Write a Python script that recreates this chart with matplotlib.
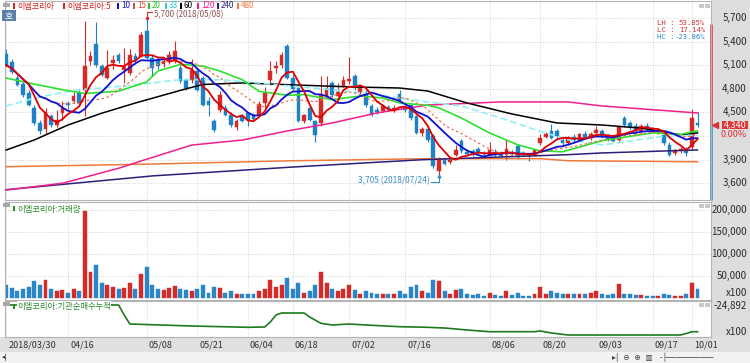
import numpy as np
import pandas as pd
import matplotlib
matplotlib.use('Agg')
import matplotlib.pyplot as plt
from matplotlib.patches import Rectangle
from matplotlib.transforms import offset_copy

plt.rcParams['font.family'] = ['Noto Sans CJK KR', 'DejaVu Sans']

# ---- data (daily, 2018/03/30 .. 2018/10/02) ----
tick_idx = [0, 11, 25, 34, 43, 51, 61, 71, 86, 95, 105, 115, 122]
tick_labels = ['2018/03/30', '04/16', '05/08', '05/21', '06/04', '06/18',
               '07/02', '07/16', '08/06', '08/20', '09/03', '09/17', '10/01']

opens = [5240, 5140, 4940, 4860, 4750, 4560, 4370, 4290, 4460, 4340,
         4490, 4620, 4640, 4750, 4780, 5150, 5370, 5090, 4940, 5130,
         5230, 5040, 5000, 5220, 5220, 5530, 5190, 5170, 5120, 5150,
         5150, 5070, 4910, 4910, 5030, 4940, 4650, 4390, 4530, 4560,
         4470, 4310, 4450, 4490, 4470, 4470, 4620, 4910, 5060, 5100,
         5340, 4940, 4810, 4390, 4560, 4390, 4360, 4710, 4870, 4710,
         4840, 4900, 4960, 4760, 4750, 4580, 4530, 4520, 4570, 4520,
         4730, 4570, 4590, 4450, 4240, 4290, 4200, 3760, 3900, 3870,
         3960, 4140, 4000, 4010, 4040, 3990, 3960, 4000, 3990, 3960,
         3990, 4070, 3990, 3960, 3960, 4110, 4190, 4270, 4260, 4150,
         4110, 4190, 4150, 4220, 4180, 4240, 4270, 4200, 4170, 4150,
         4430, 4370, 4330, 4260, 4330, 4300, 4250, 4210, 4090, 3980,
         4020, 4030, 4060, 4370]
highs = [5300, 5180, 4980, 4900, 4790, 4600, 4400, 4560, 4480, 4530,
         4640, 4640, 4760, 4780, 5660, 5280, 5650, 5120, 5290, 5230,
         5250, 5320, 5300, 5260, 5520, 5700, 5230, 5200, 5200, 5280,
         5410, 5100, 4940, 5180, 5060, 4960, 4700, 4420, 4770, 4590,
         4500, 4420, 4480, 4510, 4490, 4640, 4820, 5150, 5150, 5270,
         5370, 4990, 4830, 4480, 4580, 4410, 4960, 4960, 4900, 4870,
         4960, 5200, 4990, 4840, 4780, 4610, 4570, 4600, 4600, 4600,
         4780, 4600, 4610, 4470, 4320, 4300, 4220, 3930, 3920, 3920,
         4090, 4160, 4030, 4030, 4060, 4010, 4120, 4030, 4010, 4150,
         4020, 4090, 4010, 3990, 4040, 4220, 4250, 4350, 4290, 4180,
         4200, 4230, 4240, 4260, 4250, 4330, 4290, 4230, 4200, 4340,
         4450, 4390, 4360, 4350, 4360, 4320, 4300, 4230, 4130, 4040,
         4060, 4060, 4540, 4500]
lows = [5090, 4990, 4830, 4700, 4580, 4340, 4230, 4220, 4320, 4310,
        4400, 4540, 4620, 4600, 4460, 5100, 5080, 4960, 4920, 5050,
        5130, 4880, 4980, 5120, 5200, 5180, 4960, 5050, 5080, 5120,
        5130, 4880, 4780, 4880, 4770, 4580, 4450, 4250, 4500, 4450,
        4320, 4280, 4380, 4330, 4400, 4450, 4560, 4850, 5000, 5060,
        4920, 4780, 4380, 4370, 4390, 4130, 4330, 4690, 4700, 4690,
        4820, 4860, 4780, 4740, 4570, 4450, 4480, 4500, 4520, 4500,
        4620, 4510, 4410, 4220, 4200, 4130, 3800, 3705, 3830, 3850,
        3940, 3990, 3960, 3940, 3970, 3950, 3940, 3950, 3930, 3890,
        3950, 3910, 3940, 3880, 3940, 4090, 4170, 4160, 4180, 4090,
        4090, 4130, 4140, 4160, 4150, 4200, 4170, 4140, 4120, 4130,
        4320, 4290, 4240, 4240, 4280, 4250, 4220, 4090, 3950, 3960,
        3990, 3950, 4040, 4310]
closes = [5100, 5020, 4850, 4720, 4600, 4370, 4260, 4500, 4340, 4400,
          4560, 4600, 4710, 4620, 5090, 5220, 5100, 4980, 5060, 5170,
          5150, 5080, 5230, 5160, 5480, 5190, 5070, 5090, 5150, 5230,
          5280, 4900, 4810, 5040, 4790, 4600, 4600, 4280, 4720, 4470,
          4340, 4390, 4390, 4400, 4420, 4610, 4750, 5030, 5090, 5230,
          4940, 4800, 4390, 4470, 4400, 4210, 4720, 4810, 4720, 4760,
          4910, 4930, 4810, 4810, 4590, 4470, 4500, 4580, 4540, 4560,
          4650, 4530, 4430, 4240, 4290, 4150, 3820, 3900, 3850, 3900,
          4020, 4010, 3970, 3960, 3990, 3970, 4020, 3970, 3950, 4040,
          3970, 3930, 3960, 3940, 4020, 4170, 4220, 4180, 4200, 4110,
          4180, 4150, 4220, 4180, 4230, 4280, 4190, 4160, 4140, 4310,
          4340, 4310, 4260, 4330, 4300, 4270, 4280, 4110, 3960, 4020,
          4030, 3985, 4430, 4340]
volumes = [30000, 22000, 15000, 20000, 25000, 38000, 30000, 42000, 20000, 15000,
           18000, 12000, 20000, 15000, 198000, 60000, 75000, 35000, 30000, 25000,
           20000, 22000, 35000, 20000, 55000, 70000, 30000, 20000, 18000, 22000,
           28000, 20000, 18000, 15000, 20000, 30000, 12000, 25000, 22000, 12000,
           15000, 10000, 8000, 10000, 8000, 15000, 20000, 40000, 25000, 30000,
           45000, 20000, 35000, 12000, 15000, 30000, 60000, 35000, 20000, 15000,
           20000, 30000, 18000, 10000, 15000, 12000, 8000, 10000, 8000, 8000,
           15000, 10000, 25000, 30000, 15000, 12000, 40000, 38000, 15000, 10000,
           18000, 20000, 8000, 6000, 8000, 5000, 12000, 6000, 5000, 15000,
           6000, 12000, 5000, 5000, 8000, 25000, 10000, 15000, 12000, 8000,
           10000, 8000, 10000, 8000, 12000, 15000, 8000, 6000, 10000, 32000,
           10000, 8000, 6000, 6000, 5000, 5000, 5000, 8000, 6000, 4000,
           5000, 8000, 34000, 20000]

# moving averages that need history before the window
ma20_idx = [0, 4, 10, 14, 20, 25, 27, 31, 35, 38, 42, 45, 50, 53, 58, 63, 67,
            70, 75, 77, 81, 86, 91, 95, 99, 106, 115, 120, 123]
ma20_val = [4937, 4874, 4789, 4740, 4770, 4887, 5026, 5110, 5090, 5026, 4916,
            4768, 4718, 4726, 4662, 4709, 4684, 4620, 4591, 4557, 4429, 4239,
            4089, 4012, 4000, 4140, 4240, 4220, 4267]
ma33_idx = [0, 4, 8, 13, 17, 26, 31, 38, 45, 51, 58, 66, 75, 81, 88, 95, 100,
            106, 116, 123]
ma33_val = [4582, 4662, 4725, 4789, 4810, 4874, 4916, 4916, 4874, 4832, 4789,
            4725, 4632, 4582, 4429, 4260, 4153, 4086, 4188, 4213]
ma60_idx = [0, 5, 11, 17, 23, 26, 32, 35, 42, 51, 61, 70, 75, 82, 90, 98, 106,
            113, 120, 123]
ma60_val = [4022, 4150, 4340, 4490, 4620, 4680, 4800, 4855, 4875, 4850, 4825,
            4810, 4772, 4620, 4480, 4366, 4340, 4300, 4215, 4240]
ma120_idx = [0, 10, 20, 24, 33, 42, 50, 58, 66, 75, 88, 100, 106, 123]
ma120_val = [3514, 3600, 3790, 3883, 4085, 4149, 4264, 4366, 4494, 4594, 4633,
             4633, 4582, 4493]
ma240_idx = [0, 26, 51, 74, 100, 106, 123]
ma240_val = [3518, 3693, 3806, 3899, 3963, 3985, 4023]
ma480_idx = [0, 26, 51, 75, 95, 100, 123]
ma480_val = [3810, 3844, 3886, 3912, 3912, 3886, 3873]

# institutional net-buying cumulative (x100)
inst_idx = [0, 20, 21, 22, 33, 43, 46, 47, 48, 49, 53, 54, 56, 58, 61, 64, 70,
            75, 78, 82, 86, 94, 95, 97, 100, 120, 121, 122, 123]
inst_val = [-24392, -24392, -29392, -33892, -34892, -35542, -35392, -32892,
            -29392, -28392, -28392, -30392, -33542, -34392, -33892, -34392,
            -35242, -35542, -35892, -36892, -37742, -37742, -37392, -38392,
            -39392, -39392, -38642, -37742, -37742]

price_ticks = [3600, 3900, 4200, 4500, 4800, 5100, 5400, 5700]
vol_ticks = [50000, 100000, 150000, 200000]

# ---- figure ----
W, H = 750, 363
fig = plt.figure(figsize=(7.5, 3.63), dpi=100)
fig.patch.set_facecolor('white')


def box(x0, y0, x1, y1):
    return [x0 / W, 1 - y1 / H, (x1 - x0) / W, (y1 - y0) / H]


def px(x, y):
    return x / W, 1 - y / H


def fig_rect(x0, y0, x1, y1, color, z=0):
    fig.add_artist(Rectangle((x0 / W, 1 - y1 / H), (x1 - x0) / W, (y1 - y0) / H,
                             transform=fig.transFigure, color=color, zorder=z, lw=0))


fig_rect(711, 0, 750, 352, '#dddddd')
fig_rect(0, 337, 750, 352, '#e0e0e0')
fig_rect(0, 352, 750, 363, '#f2f2f2')

RED, BLUE = '#d42a28', '#1f82c4'
GRID = dict(color='#c4c4c4', lw=0.6, ls=(0, (1, 2)))

ax1 = fig.add_axes(box(5, 1, 711, 200))
ax2 = fig.add_axes(box(5, 202, 711, 300))
ax3 = fig.add_axes(box(5, 301, 711, 337))
for ax in (ax1, ax2, ax3):
    ax.set_xlim(-0.21, 125.4)
    ax.set_xticks(tick_idx)
    ax.tick_params(length=0, labelbottom=False, labelleft=False)
    ax.set_axisbelow(True)
    ax.grid(True, axis='x', **GRID)
    for sp in ax.spines.values():
        sp.set_color('#b4b4b4')
        sp.set_linewidth(0.8)

ax1.set_ylim(3387, 5916)
ax1.set_yticks(price_ticks)
ax1.grid(True, axis='y', **GRID)
ax2.set_ylim(-4545, 218180)
ax2.set_yticks(vol_ticks)
ax2.grid(True, axis='y', **GRID)
ax3.set_ylim(-40392, -22392)
ax3.set_yticks([])

# candles
x = np.arange(len(closes))
o, h, l, c = map(np.array, (opens, highs, lows, closes))
up = c >= o
col = np.where(up, RED, BLUE)
ax1.vlines(x, l, h, colors=col, lw=0.8, zorder=2)
ax1.bar(x, np.maximum(np.abs(c - o), 10), bottom=np.minimum(o, c), width=0.66,
        color=col, edgecolor=col, lw=0.3, zorder=3)

s = pd.Series(closes)
ma5 = s.rolling(5, min_periods=1).mean()
ma10 = s.rolling(10, min_periods=1).mean()
ma15 = s.rolling(15, min_periods=1).mean()

ax1.plot(ma480_idx, ma480_val, color='#f07a3c', lw=1.1, zorder=4)
ax1.plot(ma240_idx, ma240_val, color='#2e1f78', lw=1.1, zorder=4)
ax1.plot(ma120_idx, ma120_val, color='#f0208a', lw=1.1, zorder=4)
ax1.plot(ma60_idx, ma60_val, color='#000000', lw=1.1, zorder=4)
ax1.plot(ma33_idx, ma33_val, color='#8ef0f4', lw=1.2, ls=(0, (4, 2)), zorder=4)
ax1.plot(ma20_idx, ma20_val, color='#2ee02e', lw=1.2, zorder=4)
ax1.plot(x, ma15, color='#f07050', lw=0.9, ls=(0, (2, 2)), zorder=4)
ax1.plot(x, ma10, color='#1010d0', lw=1.3, zorder=5)
ax1.plot(x, ma5, color='#e00000', lw=1.3, zorder=5)

# high / low annotations
ax1.plot([25, 25, 25.9], [5700, 5776, 5776], color='#d03030', lw=0.8, zorder=6)
ax1.plot([25], [5700], marker='o', ms=1.5, color='#d03030', zorder=6)
ax1.text(26.3, 5745, '5,700 (2018/05/08)', fontsize=5.8, color='#8c5050',
         ha='left', va='center', zorder=6)
ax1.plot([75.6, 77, 77], [3616, 3616, 3690], color='#3a8dc4', lw=0.8, zorder=6)
ax1.plot([77], [3695], marker='^', ms=2, color='#3a8dc4', zorder=6)
ax1.text(75.4, 3628, '3,705 (2018/07/24)', fontsize=6, color='#3a8dc4',
         ha='right', va='center', zorder=6)

# volume
vcol = np.where(up, '#d42a28', '#2a86c8')
ax2.bar(x, volumes, width=0.7, color=vcol, edgecolor=vcol, lw=0.3)

# institutional cumulative line
ax3.plot(inst_idx, inst_val, color='#1d7a1d', lw=1.2)

# right axis labels
RX = (747 - 5) / 706


def rlabel(ax, yv, s, color='#2a2a2a', fs=7):
    ax.text(RX, yv, s, transform=ax.get_yaxis_transform(), ha='right',
            va='center', fontsize=fs, color=color, clip_on=False)


for t in price_ticks:
    if t != 4200:
        rlabel(ax1, t, f'{t:,}')
for t in vol_ticks:
    rlabel(ax2, t, f'{t:,}')
rlabel(ax2, 11364, 'x100')
rlabel(ax3, -24892, '-24,892')
rlabel(ax3, -37892, 'x100')

# current price marker on the right
ytr = ax1.get_yaxis_transform()
ax1.plot([1.0, 1.0], [5624, 4340], transform=ytr, color='#e03030', lw=1.8,
         clip_on=False, solid_capstyle='butt')
ax1.plot([1.0, 1.0], [4340, 3387], transform=ytr, color='#1f8ad0', lw=1.8,
         clip_on=False, solid_capstyle='butt')
ax1.plot([1.0058], [4340], transform=ytr, marker='<', ms=4, color='#e03030',
         clip_on=False)
ax1.add_patch(Rectangle(((722 - 5) / 706, 4290), 26 / 706, 100, transform=ytr,
                        color='#e03838', clip_on=False, lw=0))
ax1.text((735 - 5) / 706, 4340, '4,340', transform=ytr, ha='center', va='center',
         fontsize=6.5, color='white', clip_on=False)
rlabel(ax1, 4216, '0.00%', color='#e03030', fs=6.5)

# LH / LC / HC box
for yy, key, val, cc in [(23, 'LH :', '53.85%', '#d03030'),
                         (30, 'LC :', '17.14%', '#d03030'),
                         (37, 'HC :', '-23.86%', '#2a86c8')]:
    fig.text(*px(657, yy), key, fontsize=5.2, color=cc, va='center',
             family='DejaVu Sans Mono')
    fig.text(*px(705, yy), val, fontsize=5.2, color=cc, va='center', ha='right',
             family='DejaVu Sans Mono')

# x labels
trans = offset_copy(ax3.get_xaxis_transform(), fig=fig, x=2, y=0, units='dots')
for i, lab in zip(tick_idx, tick_labels):
    ax3.text(i, -8 / 36, lab, transform=trans, ha='left', va='center',
             fontsize=6.5, color='#333333', clip_on=False)

# legend headers
header = [('이엠코리아', '#d81e1e', 13), ('이엠코리아:5', '#d81e1e', 63),
          ('10', '#1010d0', 117), ('15', '#e04a30', 133), ('20', '#22c822', 148),
          ('33', '#30c8d8', 165), ('60', '#000000', 180), ('120', '#f0208a', 197),
          ('240', '#2e1f78', 217), ('480', '#f07a3c', 237)]
for name, cc, xx in header:
    fig_rect(xx, 3.5, xx + 2, 8.5, cc, z=5)
    fig.text(*px(xx + 4, 6), name, fontsize=5.8, color=cc, va='center', zorder=5)

for yy, name in [(209, '이엠코리아:거래량'), (306, '이엠코리아:기관순매수누적')]:
    fig_rect(13, yy - 2.5, 15, yy + 2.5, '#2a8a2a', z=5)
    fig.text(*px(17, yy), name, fontsize=6, color='#2a8a2a', va='center', zorder=5,
             bbox=dict(facecolor='white', edgecolor='none', pad=0.3))

for yy in (3, 203, 302):
    fig_rect(3, yy, 10, yy + 4, '#a8a8a8', z=5)
    fig_rect(699, yy + 1, 704, yy + 5, '#c8c8c8', z=5)
    fig_rect(705, yy + 1, 710, yy + 5, '#c8c8c8', z=5)

# the small "호" button
fig_rect(2, 10, 16, 21, '#5b7fa6', z=5)
fig.text(*px(9, 15.5), '호', fontsize=6.5, color='white', ha='center', va='center',
         zorder=6)

# scroll bar strip
fig.text(*px(2, 357.5), '◂|', fontsize=5, color='#333333', va='center',
         family='DejaVu Sans')
fig.text(*px(612, 357.5), '▸|  ⊖  ⊕  ▥   -├──────────', fontsize=5.5,
         color='#444444', va='center', family='DejaVu Sans')

fig.savefig('out.png', dpi=100)
